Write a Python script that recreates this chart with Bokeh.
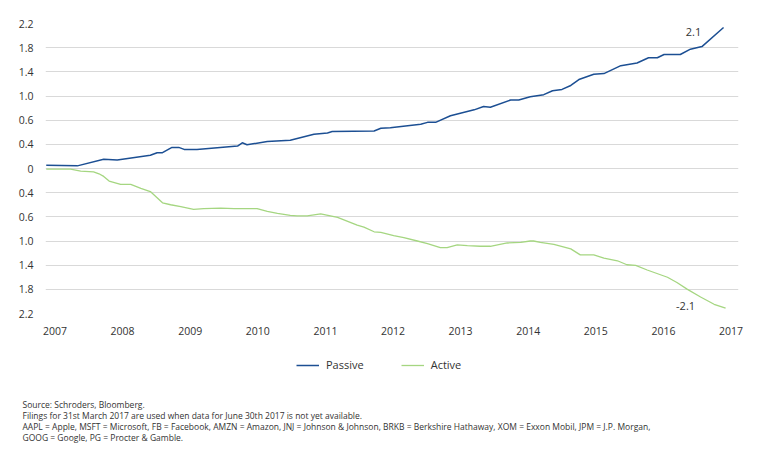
from bokeh.plotting import figure
from bokeh.layouts import column
from bokeh.models import Range1d, FixedTicker, Label, Legend, LegendItem
from bokeh.embed import file_html
from bokeh.resources import INLINE

# ---- data ----
passive_year = [2006.87, 2007.33, 2007.72, 2007.92, 2008.41, 2008.51, 2008.59, 2008.73, 2008.83, 2008.91,
                2009.10, 2009.70, 2009.77, 2009.84, 2010.14, 2010.48, 2010.83, 2011.03, 2011.10, 2011.72,
                2011.82, 2011.96, 2012.41, 2012.51, 2012.63, 2012.85, 2013.20, 2013.34, 2013.44, 2013.74,
                2013.86, 2014.03, 2014.23, 2014.36, 2014.50, 2014.63, 2014.75, 2014.97, 2015.12, 2015.37,
                2015.61, 2015.78, 2015.91, 2016.01, 2016.25, 2016.40, 2016.57, 2016.89]
passive_val = [0.05, 0.04, 0.14, 0.13, 0.20, 0.24, 0.24, 0.32, 0.32, 0.29,
               0.29, 0.34, 0.39, 0.36, 0.41, 0.43, 0.52, 0.54, 0.56, 0.57,
               0.61, 0.62, 0.67, 0.70, 0.70, 0.80, 0.89, 0.94, 0.93, 1.04,
               1.04, 1.09, 1.12, 1.18, 1.20, 1.26, 1.35, 1.43, 1.44, 1.56,
               1.60, 1.68, 1.68, 1.73, 1.73, 1.81, 1.85, 2.14]

active_year = [2006.87, 2007.08, 2007.23, 2007.38, 2007.57, 2007.65, 2007.72, 2007.80, 2007.97, 2008.12,
               2008.27, 2008.41, 2008.59, 2008.71, 2008.86, 2009.05, 2009.20, 2009.45, 2009.65, 2009.99,
               2010.14, 2010.29, 2010.48, 2010.58, 2010.73, 2010.93, 2011.18, 2011.47, 2011.57, 2011.72,
               2011.82, 2012.01, 2012.16, 2012.36, 2012.51, 2012.70, 2012.80, 2012.95, 2013.10, 2013.29,
               2013.44, 2013.69, 2013.89, 2014.03, 2014.08, 2014.18, 2014.38, 2014.63, 2014.77, 2014.97,
               2015.12, 2015.32, 2015.46, 2015.59, 2015.76, 2016.06, 2016.20, 2016.35, 2016.55, 2016.75,
               2016.92]
active_val = [-0.01, -0.01, -0.01, -0.04, -0.05, -0.08, -0.12, -0.19, -0.24, -0.24,
              -0.30, -0.35, -0.52, -0.55, -0.58, -0.62, -0.61, -0.60, -0.61, -0.61,
              -0.65, -0.68, -0.71, -0.72, -0.72, -0.69, -0.74, -0.86, -0.89, -0.96,
              -0.97, -1.02, -1.05, -1.10, -1.14, -1.20, -1.20, -1.16, -1.17, -1.18,
              -1.18, -1.13, -1.12, -1.10, -1.10, -1.12, -1.15, -1.22, -1.31, -1.31,
              -1.36, -1.40, -1.46, -1.47, -1.54, -1.65, -1.73, -1.83, -1.95, -2.06,
              -2.12]

x_ticks = [2007, 2008, 2009, 2010, 2011, 2012, 2013, 2014, 2015, 2016, 2017]
y_tick_labels = ["2.2", "1.8", "1.4", "1.0", "0.6", "0.4", "0", "0.4", "0.6", "1.0", "1.4", "1.8", "2.2"]
y_max = 2.2
end_labels = ["2.1", "-2.1"]
series_names = ["Passive", "Active"]
footnotes = [
    "Source: Schroders, Bloomberg.",
    "Filings for 31st March 2017 are used when data for June 30th 2017 is not yet available.",
    "AAPL = Apple, MSFT = Microsoft, FB = Facebook, AMZN = Amazon, JNJ = Johnson & Johnson, BRKB = Berkshire Hathaway, XOM = Exxon Mobil, JPM = J.P. Morgan,",
    "GOOG = Google, PG = Procter & Gamble.",
]

FONT = "Open Sans"
TXT = "#333333"
BLUE = "#1c4f93"
GREEN = "#a5d681"
W = 770
NAN = float("nan")

n = len(y_tick_labels) // 2
y_ticks = [round(k * y_max / n, 6) for k in range(-n, n + 1)]

# ---------------- main chart ----------------
p = figure(width=W, height=340, output_backend="svg", toolbar_location=None,
           x_range=Range1d(2006.859, 2017.111), y_range=Range1d(-y_max, y_max),
           min_border_left=45, min_border_right=32, min_border_top=23, min_border_bottom=27)
p.frame_align = False
p.outline_line_color = None
p.background_fill_color = "white"
p.border_fill_color = "white"

p.xgrid.grid_line_color = None
p.ygrid.grid_line_color = "#d9d9d9"
p.ygrid.grid_line_width = 1

for ax in (p.xaxis, p.yaxis):
    ax.axis_line_color = None
    ax.major_tick_line_color = None
    ax.minor_tick_line_color = None
    ax.major_label_text_font = FONT
    ax.major_label_text_font_size = "10.5px"
    ax.major_label_text_color = TXT

p.xaxis.ticker = FixedTicker(ticks=x_ticks)
p.xaxis.major_label_standoff = 7
p.yaxis.ticker = FixedTicker(ticks=y_ticks)
p.yaxis.major_label_overrides = {t: lab for t, lab in zip(y_ticks, y_tick_labels)}
p.yaxis.major_label_standoff = 6

p.line(passive_year, passive_val, line_color=BLUE, line_width=1.5)
p.line(active_year, active_val, line_color=GREEN, line_width=1.3)

p.add_layout(Label(x=passive_year[-1], y=passive_val[-1], text=end_labels[0],
                   x_offset=-30, y_offset=-5, text_align="center", text_baseline="middle",
                   text_font=FONT, text_font_size="11px", text_color=TXT))
p.add_layout(Label(x=active_year[-1], y=active_val[-1], text=end_labels[1],
                   x_offset=-40, y_offset=2, text_align="center", text_baseline="middle",
                   text_font=FONT, text_font_size="11px", text_color=TXT))

# ---------------- legend + notes panel ----------------
H2 = 109
q = figure(width=W, height=H2, output_backend="svg", toolbar_location=None,
           x_range=Range1d(0, W), y_range=Range1d(0, H2),
           x_axis_location=None, y_axis_location=None,
           min_border=0, min_border_left=0, min_border_right=0, min_border_top=0, min_border_bottom=0)
q.frame_align = False
q.grid.visible = False
q.outline_line_color = None
q.background_fill_color = "white"
q.border_fill_color = "white"

lp = q.line([NAN], [NAN], line_color=BLUE, line_width=1.5)
la = q.line([NAN], [NAN], line_color=GREEN, line_width=1.3)

legend = Legend(items=[LegendItem(label=series_names[0], renderers=[lp]),
                       LegendItem(label=series_names[1], renderers=[la])],
                orientation="horizontal", location=(296, 77),
                glyph_width=23, glyph_height=14, label_height=14, label_standoff=7,
                spacing=37, padding=0, margin=0,
                border_line_color=None, background_fill_alpha=0,
                label_text_font=FONT, label_text_font_size="11px", label_text_color=TXT)
q.add_layout(legend)

for i, line in enumerate(footnotes):
    q.add_layout(Label(x=22, y=45 - 11 * i, text=line,
                       text_align="left", text_baseline="middle",
                       text_font=FONT, text_font_size="8.5px", text_color=TXT))

open("out.html", "w").write(file_html(column(p, q, spacing=0), INLINE))
